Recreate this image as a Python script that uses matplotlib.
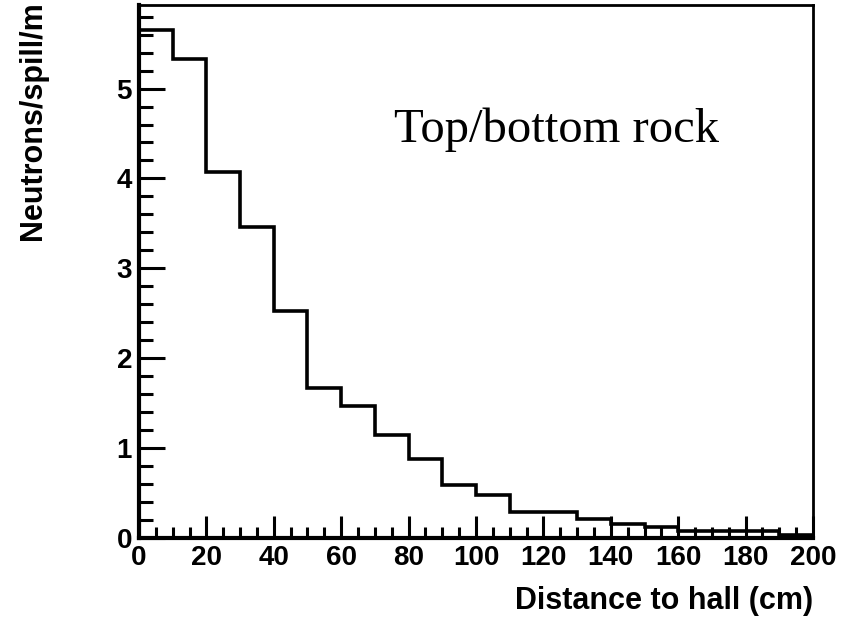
import numpy as np
import matplotlib.pyplot as plt
from matplotlib.ticker import MultipleLocator

# bin edges (cm) and neutron counts per bin
edges = np.arange(0, 210, 10)
counts = [5.65, 5.33, 4.07, 3.46, 2.53, 1.67, 1.47, 1.15, 0.876, 0.59,
          0.48, 0.29, 0.29, 0.21, 0.16, 0.126, 0.078, 0.078, 0.078, 0.03]

x_label = "Distance to hall (cm)"
y_label = "Neutrons/spill/m"
title_text = "Top/bottom rock"

plt.rcParams['font.family'] = ['Liberation Sans', 'DejaVu Sans']

fig = plt.figure(figsize=(8.46, 6.2), dpi=100)
ax = fig.add_axes([0.1643, 0.1323, 0.7967, 0.8597])

ax.stairs(counts, edges, baseline=None, color='black', linewidth=2.6)

ax.set_xlim(0, 200)
ax.set_ylim(0, 5.93)

ax.xaxis.set_major_locator(MultipleLocator(20))
ax.xaxis.set_minor_locator(MultipleLocator(5))
ax.yaxis.set_major_locator(MultipleLocator(1))
ax.yaxis.set_minor_locator(MultipleLocator(0.2))

ax.tick_params(axis='x', which='major', direction='in', length=16, width=2.2,
               labelsize=20, pad=5)
ax.tick_params(axis='x', which='minor', direction='in', length=8, width=2.2)
ax.tick_params(axis='y', which='major', direction='in', length=19, width=2.2,
               labelsize=20, pad=5)
ax.tick_params(axis='y', which='minor', direction='in', length=10, width=2.2)
for lab in ax.get_xticklabels() + ax.get_yticklabels():
    lab.set_fontweight('bold')

ax.spines['left'].set_linewidth(3)
ax.spines['bottom'].set_linewidth(3)
ax.spines['top'].set_linewidth(2)
ax.spines['right'].set_linewidth(2)

fig.text(0.961, 0.03, x_label, ha='right', va='center',
         fontsize=22, fontweight='bold')
fig.text(0.039, 0.998, y_label, ha='center', va='top', rotation=90,
         fontsize=22, fontweight='bold')

ax.text(0.619, 0.765, title_text, transform=ax.transAxes, ha='center',
        va='center', fontsize=35, family=['Liberation Serif'])

fig.savefig('out.png', dpi=100)
